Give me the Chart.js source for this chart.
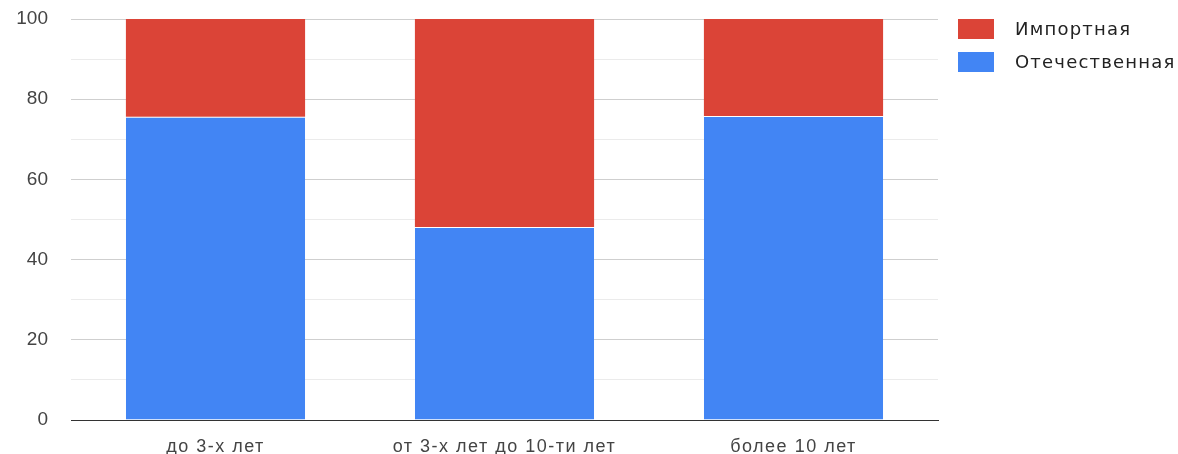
<!DOCTYPE html>
<html>
<head>
<meta charset="utf-8">
<script src="https://cdn.jsdelivr.net/npm/chart.js@4"></script>
<style>
  html, body { margin: 0; padding: 0; background: #fff; }
  #wrap { width: 1178px; height: 454px; }
</style>
</head>
<body>
<div id="wrap"><canvas id="grafico"></canvas></div>
<script>
// dados
const categorias = ['до 3-х лет', 'от 3-х лет до 10-ти лет', 'более 10 лет'];
const otechestvennaya = [75.6, 48.1, 75.8];
const importnaya = [24.4, 51.9, 24.2];
const nomes = ['Импортная', 'Отечественная'];
const cores = ['#DB4437', '#4285F4'];

// espaçamento de letras: eixo y normal, eixo x um pouco mais largo
const espacamento = {
    id: 'espacamento',
    beforeDraw(chart) { chart.ctx.letterSpacing = '0px'; },
    afterDatasetsDraw(chart) { chart.ctx.letterSpacing = '1.5px'; }
};

// legenda desenhada à direita (como no original)
const legendaDireita = {
    id: 'legendaDireita',
    afterDraw(chart) {
        const ctx = chart.ctx;
        ctx.save();
        ctx.letterSpacing = '1.2px';
        ctx.font = '18px "DejaVu Sans"';
        ctx.textBaseline = 'middle';
        nomes.forEach((nome, i) => {
            const y = 19 + i * 33;
            ctx.fillStyle = cores[i];
            ctx.fillRect(958, y, 36, 20);
            ctx.fillStyle = '#222';
            ctx.fillText(nome, 1015, y + 11);
        });
        ctx.restore();
        ctx.letterSpacing = '0px';
    }
};

const config = {
    type: 'bar',
    data: {
        labels: categorias,
        datasets: [{
            label: nomes[1],
            data: otechestvennaya,
            backgroundColor: cores[1],
            borderColor: '#ffffff',
            borderWidth: { top: 1 },
            borderSkipped: false,
            categoryPercentage: 0.62,
            barPercentage: 1
        }, {
            label: nomes[0],
            data: importnaya,
            backgroundColor: cores[0],
            categoryPercentage: 0.62,
            barPercentage: 1
        }]
    },
    options: {
        responsive: true,
        maintainAspectRatio: false,
        animation: false,
        layout: { padding: { top: 19, right: 240, bottom: 0, left: 0 } },
        plugins: {
            legend: { display: false },
            tooltip: { enabled: false }
        },
        scales: {
            x: {
                stacked: true,
                grid: { display: false, drawTicks: false },
                border: { color: '#333', width: 1 },
                ticks: { z: 1, color: '#444', font: { family: 'Liberation Sans', size: 18 }, padding: 16 },
                afterFit(scale) { scale.height = 34; }
            },
            y: {
                stacked: true,
                min: 0,
                max: 100,
                border: { display: false },
                grid: {
                    color: (c) => (c.tick && c.tick.value % 20 === 0) ? '#cfcfcf' : '#ebebeb',
                    drawTicks: false
                },
                ticks: {
                    stepSize: 10,
                    color: '#444',
                    font: { family: 'Liberation Sans', size: 19 },
                    padding: 23,
                    callback: (v) => v % 20 === 0 ? v : ''
                },
                afterFit(scale) {
                    scale.width = 71;
                    scale.paddingTop = 0;
                    scale.paddingBottom = 0;
                }
            }
        }
    },
    plugins: [espacamento, legendaDireita]
};

document.addEventListener('DOMContentLoaded', function() {
    const ctx = document.getElementById('grafico').getContext('2d');
    new Chart(ctx, config);
});
</script>
</body>
</html>
